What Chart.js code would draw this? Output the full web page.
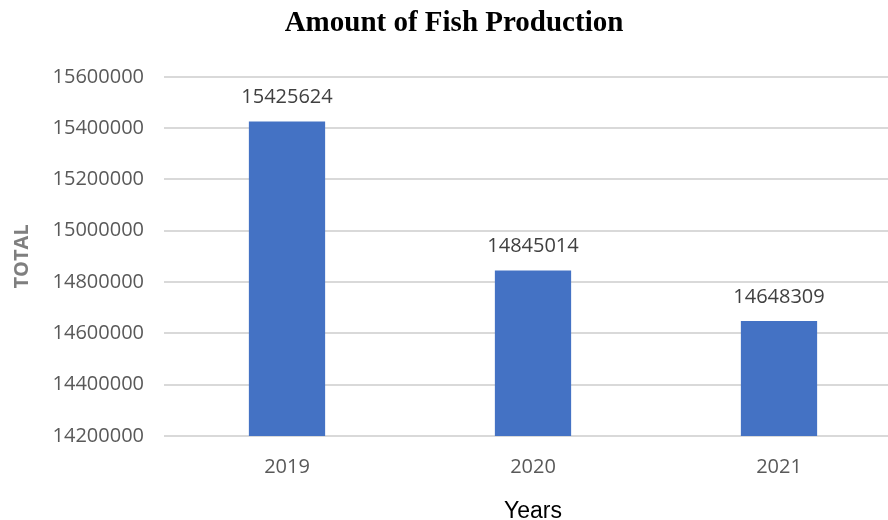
<!DOCTYPE html>
<html><head><meta charset="utf-8">
<script src="https://cdn.jsdelivr.net/npm/chart.js@4.4.1/dist/chart.umd.min.js"></script>
<style>
html,body{margin:0;padding:0;background:#fff;overflow:hidden;}
#wrap{position:relative;width:902px;height:520px;}
</style></head>
<body><div id="wrap"><canvas id="c"></canvas></div>
<script>
const categories = ["2019", "2020", "2021"];
const totals = [15425624, 14845014, 14648309];
const yTicks = [14200000, 14400000, 14600000, 14800000, 15000000, 15200000, 15400000, 15600000];

const labelPlugin = {
  id: 'barLabels',
  afterDatasetsDraw(chart) {
    const ctx = chart.ctx;
    const meta = chart.getDatasetMeta(0);
    ctx.save();
    ctx.font = '20px "Open Sans", sans-serif';
    ctx.fillStyle = '#404040';
    ctx.textAlign = 'center';
    ctx.textBaseline = 'middle';
    meta.data.forEach((bar, i) => {
      ctx.fillText(String(totals[i]), bar.x, bar.y - 24);
    });
    ctx.restore();
  }
};

new Chart(document.getElementById('c'), {
  type: 'bar',
  data: {
    labels: categories,
    datasets: [{
      data: totals,
      backgroundColor: '#4472C4',
      barPercentage: 1,
      categoryPercentage: 0.31
    }]
  },
  options: {
    responsive: true,
    maintainAspectRatio: false,
    animation: false,
    layout: { padding: { top: 0, left: 6, right: 0, bottom: 0 } },
    plugins: {
      legend: { display: false },
      tooltip: { enabled: false },
      title: {
        display: true,
        text: 'Amount of Fish Production',
        font: { family: '"Liberation Serif", serif', size: 29, weight: 'bold' },
        color: '#000',
        padding: { top: 6, bottom: 36 }
      }
    },
    scales: {
      x: {
        afterFit(axis) { axis.height = 84; },
        grid: { display: false },
        border: { display: false },
        ticks: { color: '#595959', font: { family: '"Open Sans", sans-serif', size: 20 }, padding: 11 },
        title: { display: true, text: 'Years', color: '#000', font: { family: '"Liberation Sans", sans-serif', size: 23 }, padding: { top: 15, bottom: -5 } }
      },
      y: {
        min: 14200000, max: 15600000,
        afterBuildTicks(axis) { axis.ticks = yTicks.map(v => ({ value: v })); },
        afterFit(axis) { axis.width = 158; },
        grid: { color: '#d9d9d9', lineWidth: 2, drawTicks: false },
        border: { display: false },
        ticks: { color: '#595959', font: { family: '"Open Sans", sans-serif', size: 20 }, padding: 20,
                 callback: (v) => String(v) },
        title: { display: true, text: 'TOTAL', color: '#7f7f7f', font: { family: '"Open Sans", sans-serif', size: 20, weight: 'bold' }, padding: { top: 4, bottom: 8 } }
      }
    }
  },
  plugins: [labelPlugin]
});
</script></body></html>
